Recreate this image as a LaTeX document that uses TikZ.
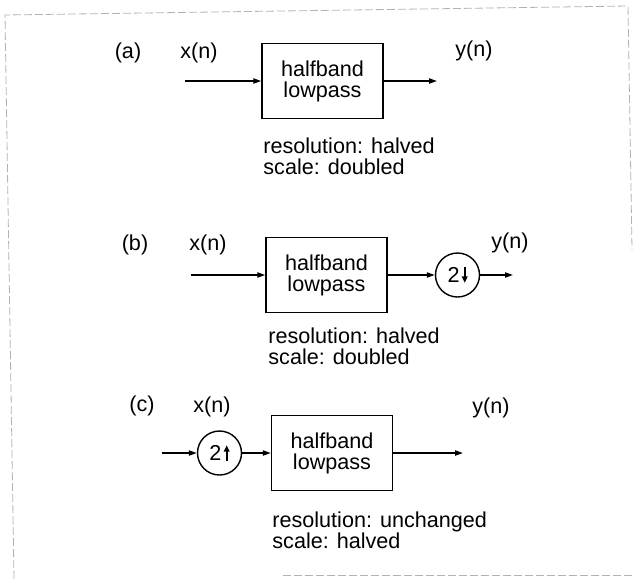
\documentclass[tikz,border=0pt]{standalone}
\usepackage{fontspec}
\setmainfont{Liberation Sans}
\usetikzlibrary{arrows.meta,positioning}

% arrows inside the rate changers
\newcommand{\ratedown}{\tikz[baseline=0pt]\draw[-{Triangle[length=3.2pt,width=2.8pt]}, line width=0.9pt] (0,7.8pt) -- (0,0);}
\newcommand{\rateup}{\tikz[baseline=0pt]\draw[-{Triangle[length=3.2pt,width=2.8pt]}, line width=0.9pt] (0,0) -- (0,7.8pt);}

\begin{document}
\begin{tikzpicture}[%
    >={Triangle[length=4pt,width=2.6pt]},   % small filled heads
    x=0.5pt,
    y=-0.5pt,                               % y runs down the page
    every node/.style={font=\fontsize{10.8}{10.5}\selectfont},
    filt/.style={draw, line width=0.7pt, minimum width=60.5pt, minimum height=37.5pt, align=center, inner sep=0pt},
    rate/.style={draw, circle, line width=0.7pt, minimum size=22pt, inner sep=0pt},
    notes/.style={anchor=north west, align=left, inner sep=0pt},
    sig/.style={->, line width=0.75pt},
    pageedge/.style={gray!60, line width=0.4pt, dash pattern=on 4pt off 1.5pt}
    ]

    \useasboundingbox (0,0) rectangle (635,579);

    % frame of the scanned page
    \draw[pageedge] (14,579) -- (5,15) -- (628,6) -- (632,250);
    \draw[pageedge] (283,575) -- (635,575);

    % (a)
    \node at (128,53) (la) {(a)};
    \node at (199,53) (xa) {x(n)};
    \node at (322.5,81) [filt] (fa) {halfband\\lowpass};
    \node at (474,51) (ya) {y(n)};
    \node at (263,137) [notes] (ca) {resolution: halved\\scale: doubled};
    \coordinate (ina) at (185,81);
    \coordinate (outa) at (437,81);
        \draw [sig] (ina) -- (fa);
        \draw [sig] (fa) -- (outa);

    % (b)
    \node at (135,245) (lb) {(b)};
    \node at (208,245) (xb) {x(n)};
    \node at (326.5,275) [filt] (fb) {halfband\\lowpass};
    \node at (457.5,275) [rate] (db) {2\kern1.2pt\ratedown};
    \node at (510,243) (yb) {y(n)};
    \node at (268,327) [notes] (cb) {resolution: halved\\scale: doubled};
    \coordinate (inb) at (191,275);
    \coordinate (outb) at (513,275);
        \draw [sig] (inb) -- (fb);
        \draw [sig] (fb) -- (db);
        \draw [sig] (db) -- (outb);

    % (c)
    \node at (142,406) (lc) {(c)};
    \node at (212,407) (xc) {x(n)};
    \node at (219.5,453) [rate] (uc) {2\kern1.2pt\rateup};
    \node at (332,453) [filt] (fc) {halfband\\lowpass};
    \node at (491,408) (yc) {y(n)};
    \node at (272,511) [notes] (cc) {resolution: unchanged\\scale: halved};
    \coordinate (inc) at (162,453);
    \coordinate (outc) at (463,453);
        \draw [sig] (inc) -- (uc);
        \draw [sig] (uc) -- (fc);
        \draw [sig] (fc) -- (outc);
\end{tikzpicture}
\end{document}
